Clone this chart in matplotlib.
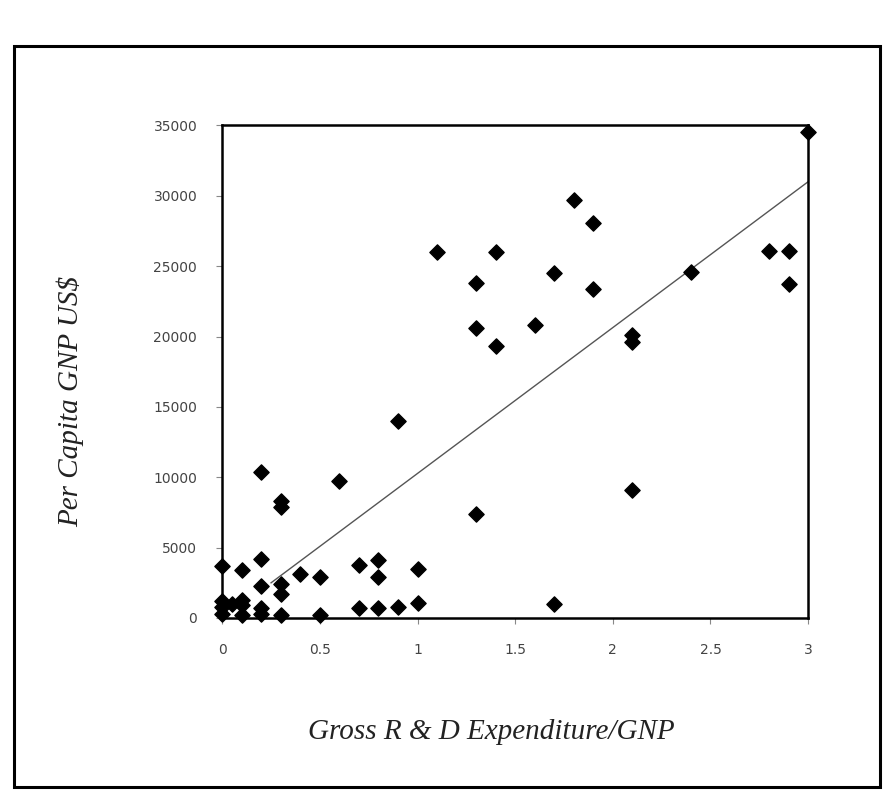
import matplotlib.pyplot as plt
from matplotlib.patches import Rectangle

# R&D expenditure as % of GNP vs per-capita GNP (US$)
rd_gnp = [0.0, 0.0, 0.0, 0.0, 0.05, 0.1, 0.1, 0.1, 0.1, 0.2, 0.2, 0.2, 0.2, 0.2,
          0.3, 0.3, 0.3, 0.3, 0.3, 0.4, 0.5, 0.5, 0.6, 0.7, 0.7, 0.8, 0.8, 0.8,
          0.9, 0.9, 1.0, 1.0, 1.1, 1.3, 1.3, 1.3, 1.4, 1.4, 1.6, 1.7, 1.7, 1.8,
          1.9, 1.9, 2.1, 2.1, 2.1, 2.4, 2.8, 2.9, 2.9, 3.0]
gnp_pc = [3700, 1200, 800, 300, 1000, 3400, 1300, 900, 200, 10400, 4200, 2300, 700, 300,
          8300, 7900, 2400, 1700, 200, 3100, 2900, 200, 9700, 3800, 700, 4100, 2900, 700,
          14000, 800, 3500, 1100, 26000, 23800, 20600, 7400, 26000, 19300, 20800, 24500, 1000, 29700,
          28100, 23400, 20100, 19600, 9100, 24600, 26100, 26100, 23700, 34500]

trend_x = [0.25, 3.0]
trend_y = [2500, 31000]

x_ticks = [0, 0.5, 1, 1.5, 2, 2.5, 3]
y_ticks = [0, 5000, 10000, 15000, 20000, 25000, 30000, 35000]

fig = plt.figure(figsize=(8.89, 7.97), dpi=100)
fig.patch.set_facecolor('white')

# outer box of the printed figure
fig.patches.append(Rectangle((0.016, 0.012), 0.974, 0.93, transform=fig.transFigure,
                             fill=False, edgecolor='black', linewidth=2.2))

ax = fig.add_axes([0.25, 0.2246, 0.659, 0.618])
ax.scatter(rd_gnp, gnp_pc, marker='D', s=60, color='black', zorder=3, clip_on=False)
ax.plot(trend_x, trend_y, color='#555555', linewidth=1.0, zorder=2)

ax.set_xlim(0, 3)
ax.set_ylim(0, 35000)
ax.set_xticks(x_ticks)
ax.set_xticklabels(['0', '0.5', '1', '1.5', '2', '2.5', '3'])
ax.set_yticks(y_ticks)
ax.set_yticklabels([str(v) for v in y_ticks])
ax.tick_params(axis='both', labelsize=10, labelcolor='#444444', color='#888888',
               length=4, direction='out', pad=14)
for s in ax.spines.values():
    s.set_linewidth(1.8)

lab = dict(family=['Liberation Serif', 'DejaVu Serif'], style='italic', fontsize=21, color='#222222')
ax.set_xlabel('Gross R & D Expenditure/GNP', **lab)
ax.set_ylabel('Per Capita GNP US$', **lab)
ax.xaxis.set_label_coords(0.46, -0.205)
ax.yaxis.set_label_coords(-0.235, 0.44)

fig.savefig('out.png', dpi=100, facecolor='white')
